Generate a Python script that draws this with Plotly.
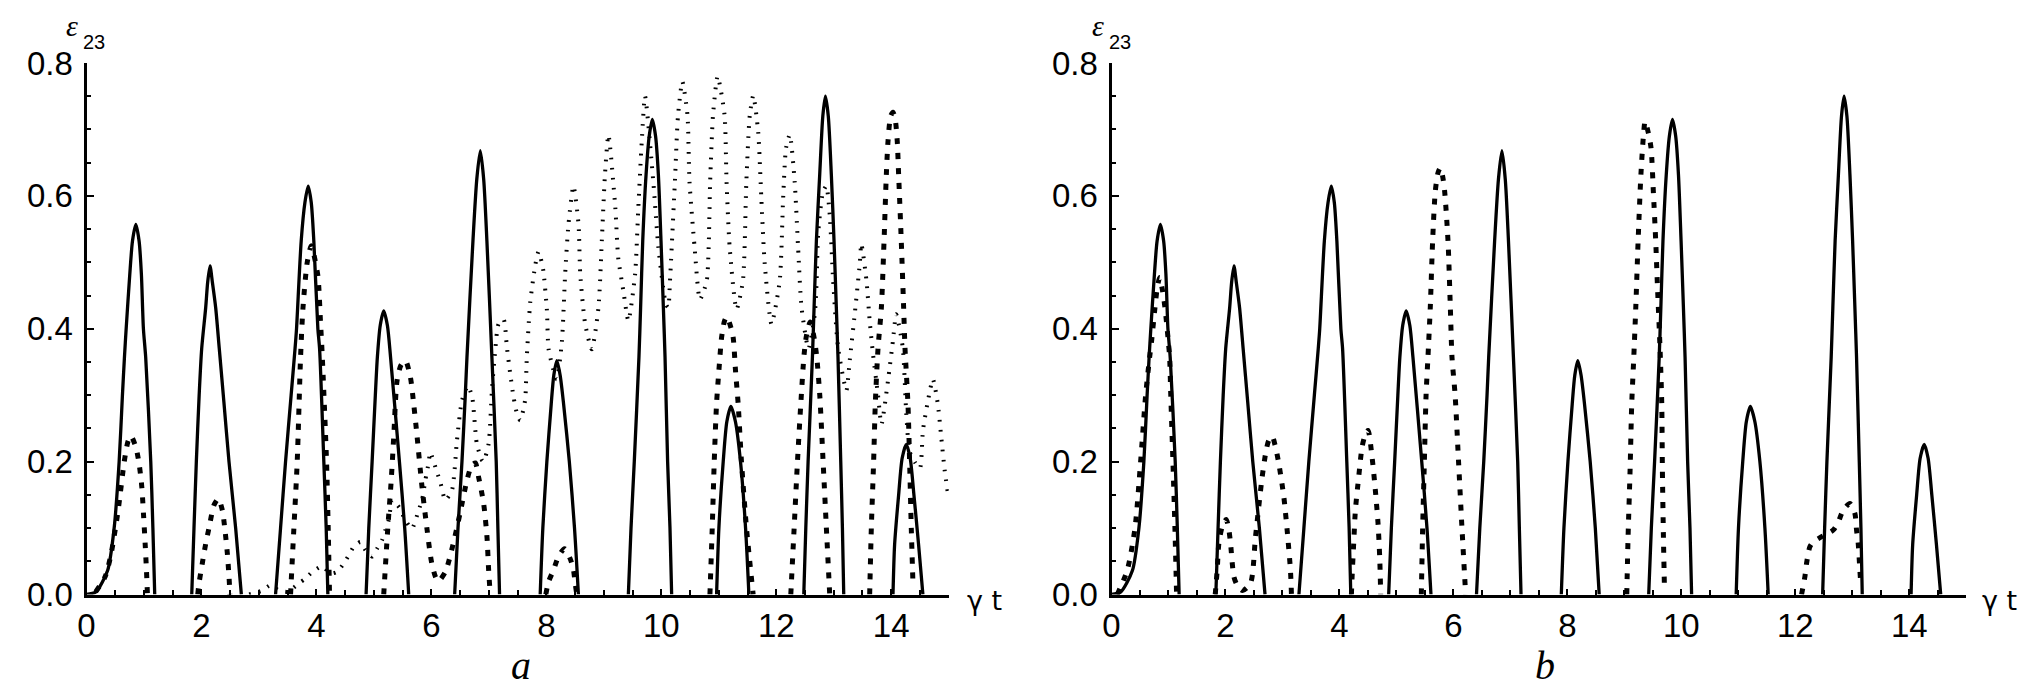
import plotly.graph_objects as go

W, H = 2031, 693

# ---------------- data (gamma*t, epsilon_23) ----------------
# solid curve (identical in panels a and b); None separates bumps
solid_t = [0.0, 0.163, 0.367, 0.481, 0.568, 0.625, 0.66, 0.69, 0.753, 0.80, 0.858, 0.915, 0.955, 0.99, 1.03, 1.118, 1.155, 1.187, None,
           1.831, 1.87, 1.911, 1.96, 2.004, 2.074, 2.108, 2.149, 2.19, 2.247, 2.31, 2.39, 2.479, 2.595, 2.694, None,
           3.289, 3.376, 3.463, 3.56, 3.628, 3.654, 3.735, 3.80, 3.857, 3.91, 3.955, 4.025, 4.055, 4.129, 4.17, 4.199, None,
           4.864, 4.911, 4.969, 5.025, 5.06, 5.11, 5.171, 5.235, 5.29, 5.444, 5.536, 5.606, None,
           6.405, 6.463, 6.532, 6.59, 6.619, 6.723, 6.79, 6.851, 6.91, 6.966, 7.053, 7.128, 7.157, 7.186, None,
           7.893, 7.939, 8.009, 8.085, 8.13, 8.183, 8.24, 8.30, 8.40, 8.49, 8.558, None,
           9.427, 9.473, 9.53, 9.611, 9.64, 9.677, 9.735, 9.79, 9.844, 9.9, 9.949, 9.995, 10.036, 10.065, 10.11, 10.151, 10.18, None,
           10.962, 11.002, 11.077, 11.14, 11.211, 11.29, 11.378, 11.466, 11.524, None,
           12.479, 12.514, 12.554, 12.629, 12.658, 12.698, 12.756, 12.81, 12.855, 12.905, 12.958, 13.005, 13.045, 13.074, 13.122, 13.151, 13.174, None,
           14.031, 14.059, 14.129, 14.19, 14.262, 14.33, 14.395, 14.476, 14.551]
solid_y = [0.0, 0.004, 0.036, 0.1, 0.2, 0.3, 0.357, 0.4, 0.482, 0.532, 0.557, 0.532, 0.482, 0.4, 0.357, 0.2, 0.1, 0.0, None,
           0.0, 0.1, 0.2, 0.3, 0.37, 0.432, 0.47, 0.4945, 0.47, 0.432, 0.37, 0.29, 0.2, 0.1, 0.0, None,
           0.0, 0.1, 0.2, 0.3, 0.37, 0.4, 0.532, 0.59, 0.6147, 0.59, 0.532, 0.4, 0.37, 0.2, 0.1, 0.0, None,
           0.0, 0.1, 0.2, 0.3, 0.357, 0.405, 0.427, 0.405, 0.357, 0.2, 0.1, 0.0, None,
           0.0, 0.1, 0.2, 0.3, 0.357, 0.532, 0.625, 0.668, 0.625, 0.532, 0.357, 0.2, 0.1, 0.0, None,
           0.0, 0.1, 0.2, 0.287, 0.33, 0.352, 0.33, 0.287, 0.2, 0.1, 0.0, None,
           0.0, 0.1, 0.2, 0.357, 0.432, 0.532, 0.632, 0.69, 0.715, 0.69, 0.632, 0.532, 0.432, 0.357, 0.2, 0.1, 0.0, None,
           0.0, 0.1, 0.2, 0.26, 0.283, 0.26, 0.2, 0.1, 0.0, None,
           0.0, 0.1, 0.2, 0.357, 0.432, 0.532, 0.632, 0.72, 0.75, 0.72, 0.632, 0.532, 0.432, 0.357, 0.2, 0.1, 0.0, None,
           0.0, 0.075, 0.15, 0.205, 0.226, 0.205, 0.15, 0.075, 0.0]

# thick dashed curve, panel a  (pairs t, y; None = gap)
dashed_a = [(0.16, 0.004), (0.325, 0.027), (0.423, 0.059), (0.551, 0.127), (0.655, 0.199), (0.72, 0.23), (0.771, 0.239),
            (0.858, 0.222), (0.915, 0.197), (0.962, 0.162), (0.991, 0.122), (1.02, 0.077), (1.043, 0.037), (1.06, 0.0), None,
            (1.935, 0.0), (1.958, 0.017), (2.015, 0.047), (2.073, 0.076), (2.131, 0.1), (2.22, 0.135), (2.294, 0.144),
            (2.363, 0.127), (2.409, 0.097), (2.45, 0.062), (2.479, 0.027), (2.496, 0.0), None,
            (3.55, 0.0), (3.608, 0.1), (3.666, 0.2), (3.724, 0.357), (3.765, 0.43), (3.84, 0.5), (3.91, 0.525),
            (3.96, 0.51), (4.025, 0.48), (4.042, 0.462), (4.07, 0.412), (4.1, 0.362), (4.176, 0.2), (4.205, 0.1), (4.228, 0.0), None,
            (5.171, 0.0), (5.241, 0.099), (5.299, 0.169), (5.345, 0.237), (5.403, 0.322), (5.47, 0.345), (5.548, 0.352),
            (5.635, 0.327), (5.692, 0.287), (5.749, 0.24), (5.837, 0.162), (5.926, 0.097), (6.0, 0.05), (6.069, 0.027),
            (6.12, 0.02), (6.243, 0.034), (6.387, 0.079), (6.503, 0.124), (6.619, 0.172), (6.70, 0.194), (6.764, 0.198),
            (6.821, 0.177), (6.909, 0.137), (6.967, 0.087), (6.996, 0.037), (7.024, 0.0), None,
            (7.991, 0.0), (8.038, 0.019), (8.125, 0.037), (8.21, 0.057), (8.316, 0.069), (8.414, 0.054), (8.472, 0.037),
            (8.501, 0.017), (8.53, 0.0), None,
            (10.846, 0.0), (10.886, 0.1), (10.921, 0.2), (10.961, 0.287), (11.002, 0.337), (11.049, 0.387), (11.1, 0.412),
            (11.14, 0.418), (11.2, 0.405), (11.25, 0.387), (11.291, 0.337), (11.337, 0.287), (11.395, 0.2), (11.482, 0.1),
            (11.598, 0.0), None,
            (12.253, 0.0), (12.311, 0.1), (12.369, 0.2), (12.427, 0.287), (12.485, 0.362), (12.526, 0.39), (12.59, 0.41),
            (12.64, 0.395), (12.699, 0.362), (12.757, 0.3), (12.815, 0.2), (12.872, 0.1), (12.93, 0.0), None,
            (13.625, 0.0), (13.654, 0.1), (13.694, 0.2), (13.723, 0.287), (13.77, 0.37), (13.829, 0.432), (13.875, 0.532),
            (13.915, 0.632), (13.944, 0.682), (13.99, 0.72), (14.03, 0.726), (14.07, 0.715), (14.105, 0.682), (14.129, 0.632),
            (14.175, 0.532), (14.216, 0.432), (14.24, 0.37), (14.291, 0.287), (14.32, 0.2), (14.349, 0.1), (14.378, 0.017)]

# thin dotted curve, panel a
dotted_a = [(2.83, 0.0), (3.06, 0.006), (3.2, 0.014), (3.35, 0.006), (3.5, 0.004), (3.69, 0.0165), (3.81, 0.024),
            (3.926, 0.034), (4.1, 0.0425), (4.244, 0.0316), (4.36, 0.034), (4.477, 0.047), (4.563, 0.059), (4.65, 0.072),
            (4.766, 0.079), (4.853, 0.067), (4.968, 0.057), (5.055, 0.069), (5.142, 0.082), (5.2, 0.097), (5.258, 0.112),
            (5.287, 0.129), (5.316, 0.142), (5.46, 0.129), (5.518, 0.117), (5.605, 0.104), (5.663, 0.099), (5.779, 0.127),
            (5.837, 0.142), (5.895, 0.172), (5.953, 0.199), (5.98, 0.214), (6.098, 0.184), (6.156, 0.169), (6.243, 0.142),
            (6.358, 0.157), (6.445, 0.232), (6.532, 0.292), (6.636, 0.314), (6.71, 0.297), (6.79, 0.227), (6.88, 0.202),
            (6.908, 0.2), (6.996, 0.227), (7.053, 0.307), (7.11, 0.367), (7.168, 0.407), (7.256, 0.414), (7.314, 0.372),
            (7.372, 0.332), (7.43, 0.297), (7.49, 0.272), (7.546, 0.262), (7.63, 0.292), (7.66, 0.357), (7.72, 0.44),
            (7.81, 0.497), (7.864, 0.516), (7.92, 0.5), (7.95, 0.486), (8.01, 0.428), (8.04, 0.369), (8.18, 0.324),
            (8.27, 0.38), (8.327, 0.482), (8.385, 0.557), (8.472, 0.615), (8.56, 0.557), (8.59, 0.482), (8.676, 0.407),
            (8.79, 0.369), (8.907, 0.432), (8.965, 0.532), (9.02, 0.632), (9.08, 0.692), (9.2, 0.582), (9.25, 0.507),
            (9.34, 0.457), (9.427, 0.412), (9.544, 0.482), (9.6, 0.582), (9.66, 0.682), (9.717, 0.75), (9.86, 0.622),
            (9.95, 0.522), (10.08, 0.437), (10.12, 0.432), (10.15, 0.47), (10.237, 0.622), (10.29, 0.72), (10.366, 0.772),
            (10.455, 0.722), (10.49, 0.622), (10.58, 0.522), (10.672, 0.444), (10.79, 0.472), (10.85, 0.622), (10.9, 0.722),
            (10.98, 0.78), (11.1, 0.722), (11.135, 0.622), (11.19, 0.522), (11.309, 0.429), (11.42, 0.472), (11.48, 0.622),
            (11.54, 0.722), (11.6, 0.751), (11.685, 0.697), (11.74, 0.597), (11.8, 0.497), (11.917, 0.407), (12.06, 0.472),
            (12.12, 0.597), (12.17, 0.672), (12.235, 0.692), (12.32, 0.622), (12.38, 0.522), (12.44, 0.432), (12.56, 0.37),
            (12.67, 0.422), (12.7, 0.467), (12.728, 0.542), (12.81, 0.605), (12.87, 0.615), (12.93, 0.572), (12.99, 0.472),
            (13.075, 0.372), (13.22, 0.307), (13.278, 0.352), (13.365, 0.422), (13.452, 0.497), (13.48, 0.528),
            (13.57, 0.472), (13.625, 0.412), (13.683, 0.362), (13.77, 0.3), (13.83, 0.256), (13.944, 0.322), (14.03, 0.382),
            (14.087, 0.422), (14.2, 0.372), (14.262, 0.272), (14.32, 0.215), (14.42, 0.198), (14.5, 0.19), (14.552, 0.247),
            (14.64, 0.292), (14.725, 0.324), (14.81, 0.287), (14.87, 0.237), (14.93, 0.187), (14.986, 0.152)]

# thick dashed curve, panel b
dashed_b = [(0.102, 0.0), (0.278, 0.037), (0.412, 0.1), (0.511, 0.2), (0.599, 0.3), (0.669, 0.357), (0.704, 0.382),
            (0.763, 0.432), (0.80, 0.46), (0.844, 0.477), (0.89, 0.46), (0.938, 0.432), (0.996, 0.382), (1.02, 0.357),
            (1.04, 0.3), (1.078, 0.2), (1.113, 0.1), (1.142, 0.0), None,
            (1.82, 0.0), (1.855, 0.037), (1.884, 0.077), (1.943, 0.102), (2.013, 0.113), (2.06, 0.097), (2.089, 0.077),
            (2.147, 0.027), (2.206, 0.014), (2.3, 0.006), (2.439, 0.017), (2.527, 0.087), (2.644, 0.177), (2.714, 0.217),
            (2.76, 0.232), (2.819, 0.238), (2.87, 0.225), (2.936, 0.197), (3.024, 0.147), (3.082, 0.097), (3.14, 0.037),
            (3.158, 0.0), None,
            (4.21, 0.0), (4.222, 0.027), (4.25, 0.077), (4.28, 0.127), (4.338, 0.177), (4.397, 0.222), (4.45, 0.24),
            (4.502, 0.247), (4.572, 0.207), (4.63, 0.157), (4.677, 0.107), (4.706, 0.057), (4.724, 0.0), None,
            (5.437, 0.0), (5.46, 0.1), (5.49, 0.2), (5.52, 0.3), (5.553, 0.357), (5.594, 0.432), (5.635, 0.532),
            (5.682, 0.607), (5.73, 0.635), (5.77, 0.642), (5.81, 0.63), (5.846, 0.607), (5.905, 0.532), (5.946, 0.432),
            (5.975, 0.357), (6.03, 0.3), (6.09, 0.2), (6.15, 0.1), (6.215, 0.0), None,
            (9.042, 0.0), (9.065, 0.087), (9.1, 0.187), (9.129, 0.287), (9.165, 0.357), (9.2, 0.432), (9.241, 0.532),
            (9.29, 0.632), (9.334, 0.69), (9.363, 0.712), (9.42, 0.695), (9.468, 0.672), (9.509, 0.605), (9.55, 0.532),
            (9.58, 0.465), (9.626, 0.37), (9.656, 0.287), (9.667, 0.187), (9.685, 0.087), (9.702, 0.014), None,
            (12.109, 0.0), (12.168, 0.027), (12.197, 0.047), (12.255, 0.072), (12.314, 0.079), (12.46, 0.087),
            (12.665, 0.097), (12.753, 0.109), (12.84, 0.127), (12.957, 0.137), (13.045, 0.122), (13.074, 0.097),
            (13.103, 0.077), (13.132, 0.037), (13.15, 0.014)]

x_ticks = [0, 2, 4, 6, 8, 10, 12, 14]
y_ticks = [0.0, 0.2, 0.4, 0.6, 0.8]
panel_labels = ["a", "b"]


def split(points):
    xs, ys = [], []
    for p in points:
        if p is None:
            xs.append(None); ys.append(None)
        else:
            xs.append(p[0]); ys.append(p[1])
    return xs, ys


fig = go.Figure()


def add(t, y, xa, ya, width, dash, smooth=0.7):
    fig.add_trace(go.Scatter(x=t, y=y, xaxis=xa, yaxis=ya, mode="lines",
                             line=dict(color="black", width=width, dash=dash, shape="spline", smoothing=smooth),
                             connectgaps=False, showlegend=False, hoverinfo="skip"))


SOLID_W = 3.3
DASH_W = 5.0
DASH_PAT = "6px,9px"
DOT_W = 4.0
DOT_PAT = "1.7px,8.3px"

# panel a
dt, dy = split(dotted_a)
add(dt, dy, "x", "y", DOT_W, DOT_PAT, 0.6)
add(solid_t, solid_y, "x", "y", SOLID_W, "solid")
dt, dy = split(dashed_a)
add(dt, dy, "x", "y", DASH_W, DASH_PAT)
# panel b
add(solid_t, solid_y, "x2", "y2", SOLID_W, "solid")
dt, dy = split(dashed_b)
add(dt, dy, "x2", "y2", DASH_W, DASH_PAT)

# ---------------- layout ----------------
TICKFONT = dict(family="Liberation Sans, Arial, sans-serif", size=33, color="black")
y_bot, y_top = 1 - 586.5 / H, 1 - 55.0 / H
dom_a = [78.5 / W, 940.7 / W]
dom_b = [1103.5 / W, 1958.3 / W]


def xax(domain, anchor):
    return dict(domain=domain, anchor=anchor, range=[0, 15], showline=True, linewidth=3, linecolor="black",
                automargin=False,
                ticks="inside", ticklen=6, tickwidth=2, tickcolor="black", tickvals=x_ticks,
                ticktext=[str(v) for v in x_ticks],
                minor=dict(ticks="inside", dtick=0.5, tick0=0, ticklen=5, tickwidth=2, tickcolor="black"),
                showgrid=False, zeroline=False, tickfont=TICKFONT, fixedrange=True)


def yax(anchor):
    return dict(domain=[y_bot, y_top], anchor=anchor, range=[0, 0.8], showline=True, linewidth=3, linecolor="black",
                automargin=False, ticklabelstandoff=4,
                ticks="inside", ticklen=7, tickwidth=2, tickcolor="black", tickvals=y_ticks,
                ticktext=["%.1f" % v for v in y_ticks],
                minor=dict(ticks="inside", dtick=0.05, tick0=0, ticklen=4, tickwidth=2, tickcolor="black"),
                showgrid=False, zeroline=False, tickfont=TICKFONT, fixedrange=True)


fig.update_layout(
    template="none",
    width=W, height=H, margin=dict(l=0, r=0, t=0, b=0, autoexpand=False),
    paper_bgcolor="white", plot_bgcolor="white",
    xaxis=xax(dom_a, "y"), yaxis=yax("x"),
    xaxis2=xax(dom_b, "y2"), yaxis2=yax("x2"),
)

ann = []


def text(px, py, s, size, family, xanchor="center", yanchor="middle", style="normal"):
    ann.append(dict(x=px / W, y=1 - py / H, xref="paper", yref="paper", text=s, showarrow=False,
                    xanchor=xanchor, yanchor=yanchor,
                    font=dict(size=size, family=family, color="black", style=style)))


# y-axis symbol: italic epsilon with subscript 23 (two adjacent, non-overlapping texts)
for ex in [72.0, 1097.5]:
    text(ex, 36, "ε", 30, "Liberation Serif, serif", xanchor="right", yanchor="bottom", style="italic")
    text(ex + 1, 34, "23", 20, "Liberation Sans, Arial, sans-serif", xanchor="left")

for gx in [976.0, 1991.7]:
    text(gx, 592, "γ t", 27, "DejaVu Sans, sans-serif")

for lx, lab in zip([513.0, 1537.3], panel_labels):
    text(lx, 657, lab, 40, "Liberation Serif, serif", style="italic")

fig.update_layout(annotations=ann)

fig.write_html("out.html")
